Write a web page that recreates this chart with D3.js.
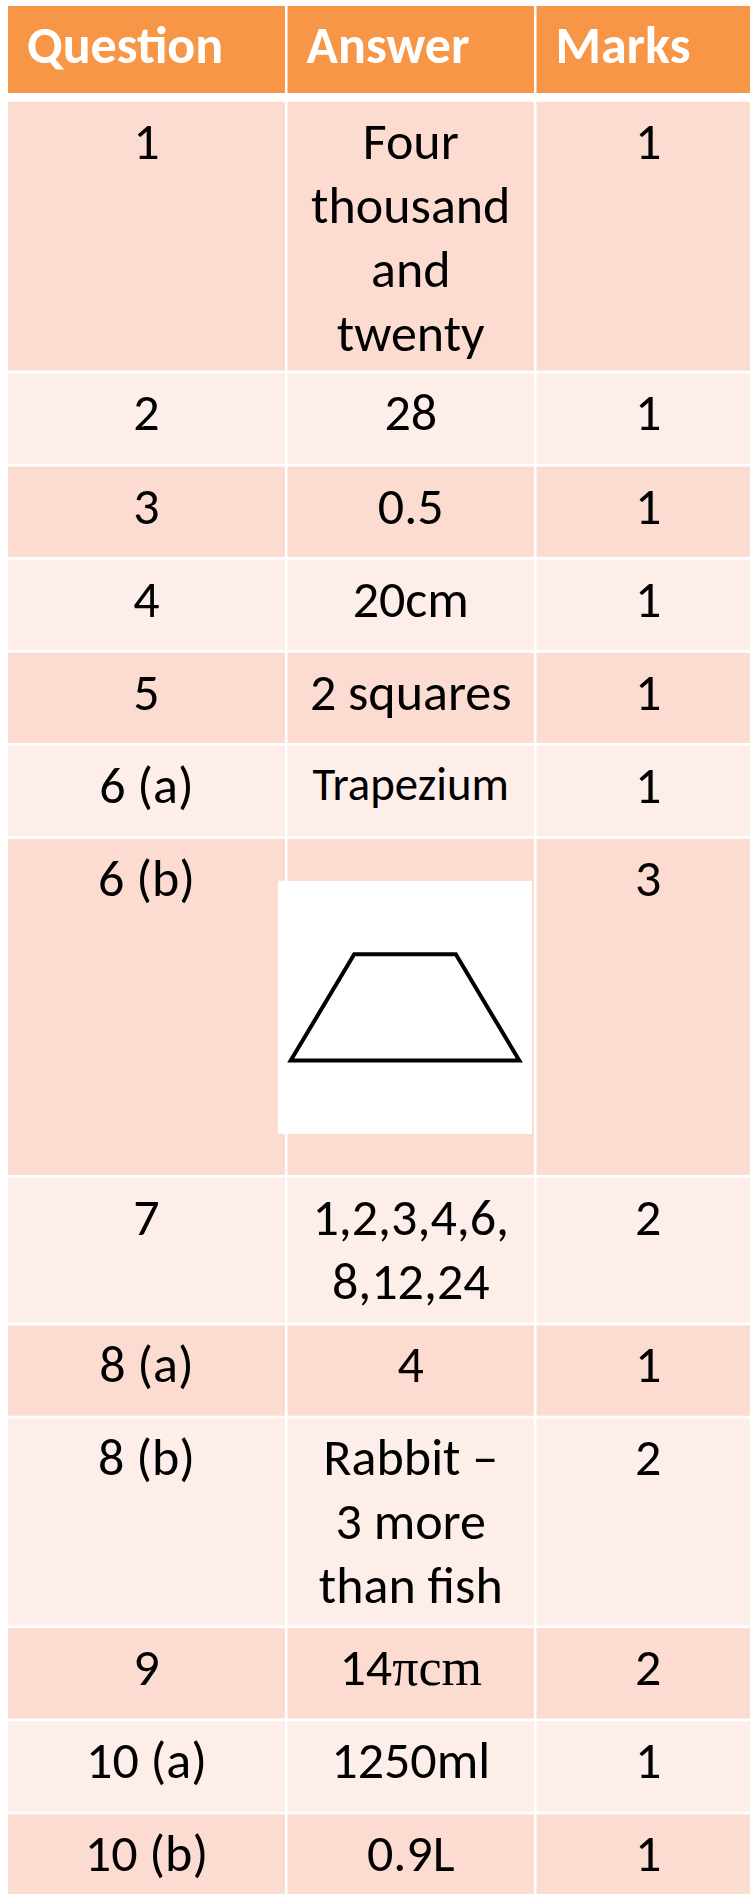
<!DOCTYPE html>
<html>
<head>
<meta charset="utf-8">
<script src="https://cdn.jsdelivr.net/npm/d3@7"></script>
<style>
  body { margin: 0; background: #fff; }
  svg { display: block; }
</style>
</head>
<body>
<div id="chart"></div>
<script>
const width = 750;
const height = 1894;

// table content
const headers = ["Question", "Answer", "Marks"];
const questions = ["1", "2", "3", "4", "5", "6 (a)", "6 (b)", "7", "8 (a)", "8 (b)", "9", "10 (a)", "10 (b)"];
const answers = [
  ["Four", "thousand", "and", "twenty"],
  ["28"],
  ["0.5"],
  ["20cm"],
  ["2 squares"],
  ["Trapezium"],
  [],
  ["1,2,3,4,6,", "8,12,24"],
  ["4"],
  ["Rabbit –", "3 more", "than fish"],
  ["14πcm"],
  ["1250ml"],
  ["0.9L"],
];
const marks = ["1", "1", "1", "1", "1", "1", "3", "2", "1", "2", "2", "1", "1"];
const pictureRow = "6 (b)";
// trapezium corners, as fractions of the picture box
const trapezium = [[0.30, 0.29], [0.70, 0.29], [0.95, 0.71], [0.05, 0.71]];

// layout
const colEdges = [8, 287.5, 536.5, 760];
const colGap = 2.5;
const headerTop = 6;
const headerH = 87;
const headerGap = 8.7;
const rowGap = 2.7;
const singleRowH = 90.4;
const lineH = 64;
const pictureRowH = 336;
const font = "Carlito, Calibri, Lato, sans-serif";
const fontSize = 52;

const colors = { header: "#F79646", dark: "#FCDCD1", light: "#FDEEE9" };

const rowH = questions.map((q, i) =>
  q === pictureRow ? pictureRowH : Math.max(singleRowH, 21 + 62 * answers[i].length)
);
const rowTop = rowH.map((h, i) => headerTop + headerH + headerGap + d3.sum(rowH.slice(0, i)) + i * rowGap);

const rows = questions.map((q, i) => ({
  q: q,
  answer: answers[i],
  mark: marks[i],
  top: rowTop[i],
  h: rowH[i],
  fill: i % 2 === 0 ? colors.dark : colors.light,
}));

const svg = d3
  .select("#chart")
  .append("svg")
  .attr("width", width)
  .attr("height", height)
  .style("font-family", font);

svg.append("rect").attr("width", width).attr("height", height).attr("fill", "#fff");

const cols = d3.range(3).map((c) => ({
  x0: colEdges[c],
  x1: colEdges[c + 1] - (c < 2 ? colGap : 0),
}));
const colCenter = (c) => (cols[c].x0 + cols[c].x1) / 2;

// header
svg
  .selectAll(".hcell")
  .data(headers)
  .enter()
  .append("rect")
  .attr("class", "hcell")
  .attr("x", (d, i) => cols[i].x0)
  .attr("y", headerTop)
  .attr("width", (d, i) => cols[i].x1 - cols[i].x0)
  .attr("height", headerH)
  .attr("fill", colors.header);

svg
  .selectAll(".htext")
  .data(headers)
  .enter()
  .append("text")
  .attr("class", "htext")
  .attr("x", (d, i) => cols[i].x0 + 19)
  .attr("y", headerTop + 57)
  .attr("fill", "#fff")
  .style("font-weight", "bold")
  .style("font-size", fontSize + "px")
  .text((d) => d);

// body rows
const row = svg
  .selectAll(".row")
  .data(rows)
  .enter()
  .append("g")
  .attr("class", "row")
  .attr("transform", (d) => `translate(0,${d.top})`);

row
  .selectAll("rect")
  .data((d) => cols.map((c) => ({ c: c, d: d })))
  .enter()
  .append("rect")
  .attr("x", (e) => e.c.x0)
  .attr("width", (e) => e.c.x1 - e.c.x0)
  .attr("height", (e) => e.d.h)
  .attr("fill", (e) => e.d.fill);

row
  .append("text")
  .attr("x", colCenter(0))
  .attr("y", 57)
  .attr("text-anchor", "middle")
  .style("font-size", fontSize + "px")
  .text((d) => d.q);

row
  .append("text")
  .attr("x", colCenter(2))
  .attr("y", 57)
  .attr("text-anchor", "middle")
  .style("font-size", fontSize + "px")
  .text((d) => d.mark);

// answers, one tspan per line
row.each(function (d) {
  const g = d3.select(this);
  const small = d.answer.length === 1 && d.answer[0] === "Trapezium";
  const t = g
    .append("text")
    .attr("text-anchor", "middle")
    .style("font-size", (small ? fontSize * 0.9 : fontSize) + "px");
  d.answer.forEach((line, k) => {
    const ts = t
      .append("tspan")
      .attr("x", colCenter(1))
      .attr("y", (small ? 54 : 57) + k * lineH);
    const m = line.match(/^(\d+)(π.*)$/);
    if (m) {
      ts.append("tspan").text(m[1]);
      ts.append("tspan").style("font-family", "'Liberation Serif', 'DejaVu Serif', serif").text(m[2]);
    } else {
      ts.text(line);
    }
  });
});

// picture of the trapezium
const pic = rows.find((d) => d.q === pictureRow);
const box = { x0: 278, x1: 532, y0: pic.top + 42, y1: pic.top + 295 };
svg
  .append("rect")
  .attr("x", box.x0)
  .attr("y", box.y0)
  .attr("width", box.x1 - box.x0)
  .attr("height", box.y1 - box.y0)
  .attr("fill", "#fff");

const px = d3.scaleLinear().domain([0, 1]).range([box.x0, box.x1]);
const py = d3.scaleLinear().domain([0, 1]).range([box.y0, box.y1]);
svg
  .append("path")
  .datum(trapezium)
  .attr("d", d3.line().x((p) => px(p[0])).y((p) => py(p[1])).curve(d3.curveLinearClosed))
  .attr("fill", "none")
  .attr("stroke", "#000")
  .attr("stroke-width", 4)
  .attr("stroke-linejoin", "miter");
</script>
</body>
</html>
